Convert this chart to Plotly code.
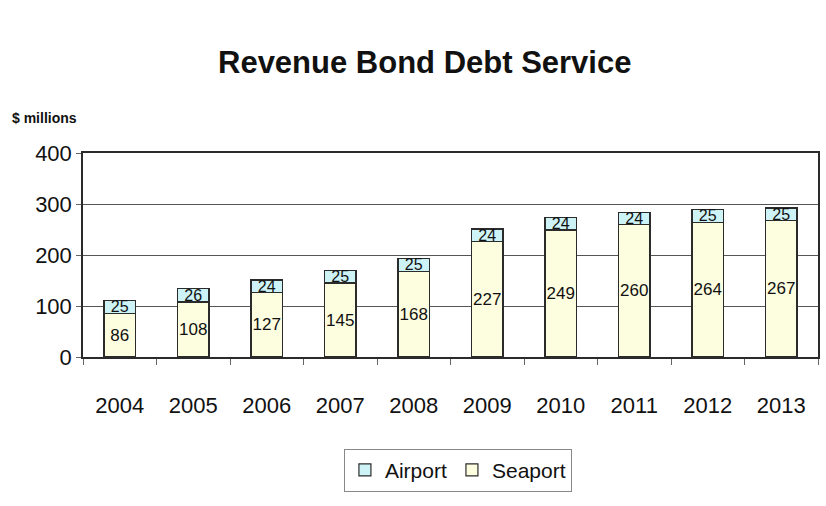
import plotly.graph_objects as go

years = ["2004", "2005", "2006", "2007", "2008", "2009", "2010", "2011", "2012", "2013"]
seaport = [86, 108, 127, 145, 168, 227, 249, 260, 264, 267]
airport = [25, 26, 24, 25, 25, 24, 24, 24, 25, 25]

FONT = "Liberation Sans, Arial"
OUT = "#2b2b2b"

fig = go.Figure()
fig.add_trace(go.Bar(
    x=years, y=seaport, name="Seaport",
    marker=dict(color="#FDFDE0", line=dict(color=OUT, width=1.2)),
    text=[str(v) for v in seaport], textposition="inside", textangle=0,
    insidetextanchor="middle", constraintext="none",
    textfont=dict(family=FONT, size=17, color="#111"),
))
fig.add_trace(go.Bar(
    x=years, y=airport, name="Airport",
    marker=dict(color="#CDF3F6", line=dict(color=OUT, width=1.2)),
    text=[str(v) for v in airport], textposition="inside", textangle=0,
    insidetextanchor="middle", constraintext="none",
    textfont=dict(family=FONT, size=16, color="#111"),
))

fig.update_layout(
    barmode="stack",
    bargap=0.57,
    width=826, height=506,
    margin=dict(l=83, r=6, t=153, b=149),
    paper_bgcolor="white", plot_bgcolor="white",
    font=dict(family=FONT, color="#111"),
    showlegend=True,
    legend=dict(
        orientation="h", x=0.355, y=-0.45, xanchor="left", yanchor="top",
        traceorder="reversed",
        bordercolor="#888", borderwidth=1, bgcolor="white",
        font=dict(family=FONT, size=21, color="#111"),
        itemwidth=30,
    ),
    annotations=[
        dict(text="<b>Revenue Bond Debt Service</b>", xref="paper", yref="paper",
             x=0.465, y=1.446, xanchor="center", yanchor="middle", showarrow=False,
             font=dict(family=FONT, size=31, color="#111")),
        dict(text="<b>$ millions</b>", xref="paper", yref="paper",
             x=-0.099, y=1.17, xanchor="left", yanchor="middle", showarrow=False,
             font=dict(family=FONT, size=14, color="#111")),
    ],
)
fig.update_xaxes(
    showline=True, linecolor=OUT, linewidth=1.5, mirror=True,
    ticks="outside", tickson="boundaries", ticklen=6, tickcolor="#666",
    ticklabelstandoff=28,
    tickfont=dict(family=FONT, size=22, color="#111"),
)
fig.update_yaxes(
    range=[0, 400], dtick=100,
    showline=True, linecolor=OUT, linewidth=1.5, mirror=True,
    showgrid=True, gridcolor="#555", gridwidth=1,
    ticks="outside", ticklen=5, tickcolor="#666",
    tickfont=dict(family=FONT, size=22, color="#111"),
)

fig.write_html("out.html")
